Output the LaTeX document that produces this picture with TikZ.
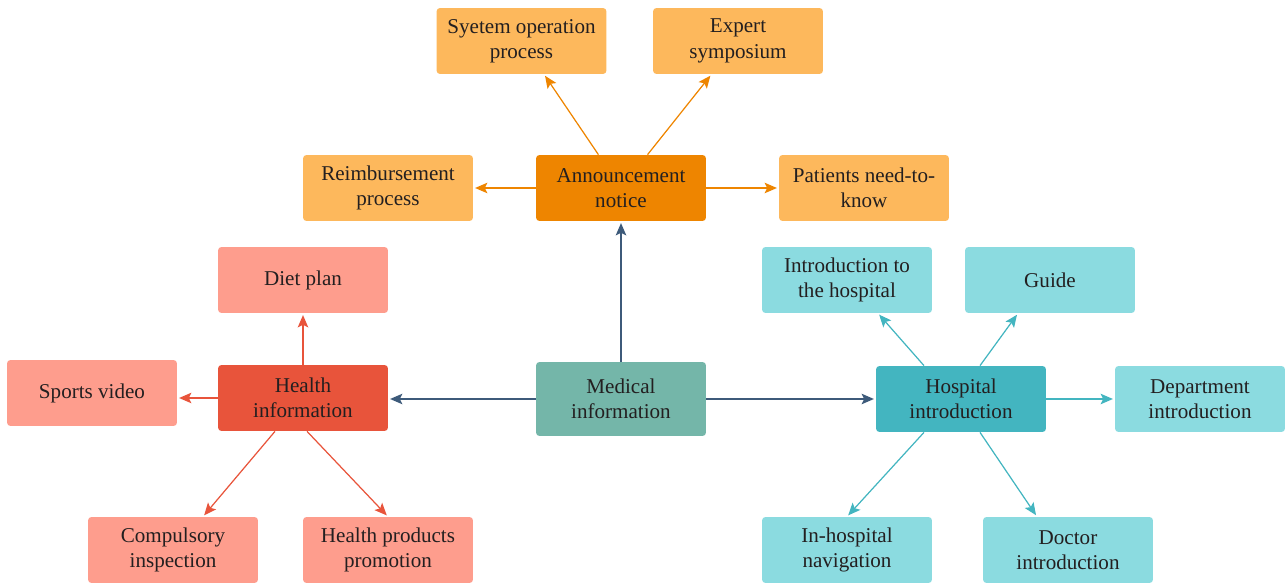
\documentclass[tikz,border=0pt]{standalone}
\usepackage{fontspec}
\setmainfont{Liberation Serif}
\usepackage{tikz}
\usetikzlibrary{arrows.meta, positioning}
\usepackage{xcolor}
\definecolor{orangelight}{HTML}{FDB85C}
\definecolor{orangedark}{HTML}{EE8500}
\definecolor{redlight}{HTML}{FE9D8D}
\definecolor{reddark}{HTML}{E8543B}
\definecolor{tealmid}{HTML}{74B6A9}
\definecolor{cyandark}{HTML}{43B5C0}
\definecolor{cyanlight}{HTML}{8BDBE0}
\definecolor{linkblue}{HTML}{3D5A7A}
\definecolor{textdark}{HTML}{231F20}
\tikzset{%
	every box/.style={
		rectangle,
		rounded corners=2pt,
		minimum width=3.4cm,
		minimum height=1.32cm,
		align=center,
		inner sep=2pt,
		text=textdark,
		font=\fontsize{12}{14.4}\selectfont
	},
	link/.style={
		-{Stealth[length=7pt,width=6pt,inset=1.5pt]},
		line width=0.7pt,
		shorten >=1pt
	},
}

\begin{document}
\begin{tikzpicture}[x=0.02cm,y=-0.02cm]
			\useasboundingbox (0,0) rectangle (1286,584);
			
			% Draw the centre box
			\node[every box, fill=tealmid, minimum height=1.48cm] (med) at (621,399) {Medical\\information};
			
			% Draw the announcement group
			\node[every box, fill=orangedark] (ann) at (621,188) {Announcement\\notice};
			\node[every box, fill=orangelight] (sys) at (521.5,41) {Syetem operation\\process};
			\node[every box, fill=orangelight] (exp) at (738,41) {Expert\\symposium};
			\node[every box, fill=orangelight] (reim) at (388,188) {Reimbursement\\process};
			\node[every box, fill=orangelight] (pat) at (864,188) {Patients need-to-\\know};
			
			% Draw the health group
			\node[every box, fill=reddark] (hea) at (303,398) {Health\\information};
			\node[every box, fill=redlight] (diet) at (303,280) {Diet plan};
			\node[every box, fill=redlight] (spo) at (92,393) {Sports video};
			\node[every box, fill=redlight] (comp) at (173,550) {Compulsory\\inspection};
			\node[every box, fill=redlight] (prod) at (388,550) {Health products\\promotion};
			
			% Draw the hospital group
			\node[every box, fill=cyandark] (hos) at (961,399) {Hospital\\introduction};
			\node[every box, fill=cyanlight] (intro) at (847,280) {Introduction to\\the hospital};
			\node[every box, fill=cyanlight] (gui) at (1050,280) {Guide};
			\node[every box, fill=cyanlight] (dep) at (1200,399) {Department\\introduction};
			\node[every box, fill=cyanlight] (nav) at (847,550) {In-hospital\\navigation};
			\node[every box, fill=cyanlight] (doc) at (1068,550) {Doctor\\introduction};
			
			% Draw the arrows
			\draw[link, linkblue] (med) -- (ann);
			\draw[link, linkblue] (med.west) -- (med.west -| hea.east);
			\draw[link, linkblue] (med) -- (hos);
			
			\draw[link, orangedark] (ann) -- (sys);
			\draw[link, orangedark] (ann) -- (exp);
			\draw[link, orangedark] (ann) -- (reim);
			\draw[link, orangedark] (ann) -- (pat);
			
			\draw[link, reddark] (hea) -- (diet);
			\draw[link, reddark] (hea.west) -- (hea.west -| spo.east);
			\draw[link, reddark] ([xshift=-0.56cm]hea.south) -- ([xshift=0.6cm]comp.north);
			\draw[link, reddark] ([xshift=0.08cm]hea.south) -- (prod.north);
			
			\draw[link, cyandark] ([xshift=-0.74cm]hos.north) -- ([xshift=0.62cm]intro.south);
			\draw[link, cyandark] ([xshift=0.38cm]hos.north) -- ([xshift=-0.64cm]gui.south);
			\draw[link, cyandark] (hos) -- (dep);
			\draw[link, cyandark] ([xshift=-0.74cm]hos.south) -- (nav.north);
			\draw[link, cyandark] ([xshift=0.38cm]hos.south) -- ([xshift=-0.62cm]doc.north);

		\end{tikzpicture}
\end{document}
